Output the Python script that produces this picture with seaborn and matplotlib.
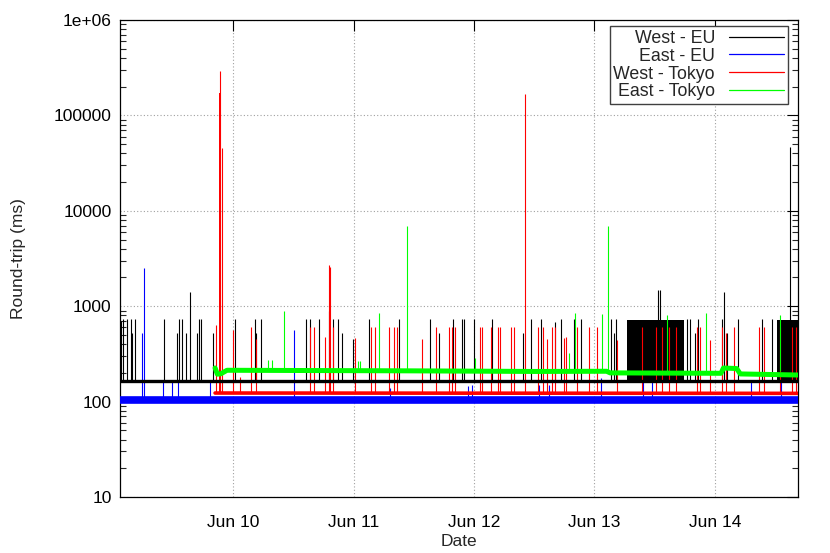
import numpy as np
import pandas as pd
import matplotlib
matplotlib.use("Agg")
import matplotlib.pyplot as plt
import matplotlib.dates as mdates
import matplotlib.ticker as mticker
from matplotlib.lines import Line2D
import seaborn as sns

# ---------------- data (times in days since Jun 9 00:00) ----------------
START = pd.Timestamp("2011-06-09")

series_names = ["West - EU", "East - EU", "West - Tokyo", "East - Tokyo"]
series_colors = ["#000000", "#0000ff", "#ff0000", "#00ff00"]

# West - EU (black)
west_eu_base_t = [0.06, 5.69]
west_eu_base_v = [164, 164]
west_eu_spike_t = [0.070, 0.087, 0.120, 0.154, 0.162, 0.187, 0.427, 0.535, 0.552, 0.577, 0.610,
                   0.643, 0.701, 0.718, 0.734, 0.834, 1.017, 1.183, 1.191, 1.232, 1.606, 1.639,
                   1.714, 1.797, 1.830, 1.871, 1.905, 1.996, 2.129, 2.378, 2.635, 2.710, 2.826,
                   2.900, 2.917, 3.000, 3.149, 3.407, 3.473, 3.556, 3.672, 3.722, 3.830, 3.888,
                   4.137, 4.162, 4.178, 4.527, 4.544, 4.768, 4.793, 4.834, 4.859, 5.058, 5.075,
                   5.100, 5.191, 5.390, 5.473, 5.622]
west_eu_spike_v = [700, 730, 730, 730, 530, 730, 730, 530, 730, 730, 530,
                   1400, 530, 730, 730, 530, 730, 730, 530, 730, 730, 730,
                   730, 900, 730, 730, 520, 450, 730, 730, 730, 530, 730,
                   730, 730, 730, 730, 530, 730, 730, 680, 730, 730, 730,
                   730, 520, 730, 1480, 1480, 730, 730, 530, 730, 730, 1400,
                   520, 730, 730, 730, 47000]
west_eu_dense_start = [4.27, 5.515]
west_eu_dense_end = [4.745, 5.69]
west_eu_dense_top = [720, 720]

# East - EU (blue)
east_eu_base_t = [0.06, 5.69]
east_eu_base_v = [104, 104]
east_eu_spike_t = [0.245, 0.261, 0.419, 0.494, 0.544, 0.809, 1.506, 2.303, 2.950, 2.980,
                   3.540, 3.620, 4.050, 4.400, 4.480, 5.300, 5.550]
east_eu_spike_v = [520, 2500, 170, 160, 160, 160, 560, 140, 145, 150,
                   150, 150, 175, 160, 165, 165, 170]

# West - Tokyo (red)
west_tokyo_base_t = [0.851, 5.69]
west_tokyo_base_v = [123, 122]
west_tokyo_spike_t = [0.859, 0.893, 0.905, 1.000, 1.058, 1.149, 1.191, 1.639, 1.672, 1.763,
                      1.797, 1.805, 1.830, 2.012, 2.145, 2.178, 2.295, 2.336, 2.361, 2.568,
                      2.685, 2.793, 2.817, 2.842, 3.050, 3.066, 3.141, 3.199, 3.216, 3.307,
                      3.332, 3.421, 3.531, 3.573, 3.606, 3.647, 3.672, 3.747, 3.763, 3.855,
                      3.954, 4.021, 4.187, 4.394, 4.510, 4.560, 4.618, 4.676, 4.851, 4.876,
                      4.959, 5.058, 5.091, 5.158, 5.365, 5.407, 5.539, 5.639, 5.672]
west_tokyo_spike_v = [630, 290000, 45000, 560, 180, 600, 450, 600, 600, 470,
                      2700, 2600, 600, 460, 600, 600, 600, 600, 600, 450,
                      600, 600, 600, 600, 600, 600, 600, 600, 600, 600,
                      600, 166000, 600, 600, 450, 600, 600, 460, 470, 600,
                      600, 600, 440, 600, 600, 600, 600, 600, 600, 600,
                      440, 600, 520, 600, 600, 600, 600, 600, 600]
west_tokyo_dense_start = [0.880]
west_tokyo_dense_end = [0.900]
west_tokyo_dense_top = [170000]

# East - Tokyo (green)
east_tokyo_base_t = [0.851, 0.870, 0.900, 0.950, 2.50, 3.50, 4.10, 4.13, 5.05, 5.07, 5.18, 5.21, 5.69]
east_tokyo_base_v = [225, 194, 196, 213, 210, 207, 208, 200, 198, 225, 222, 195, 190]
east_tokyo_spike_t = [1.290, 1.324, 1.423, 2.037, 2.054, 2.212, 2.440, 3.008, 3.788, 3.838,
                      4.062, 4.112, 4.602, 4.925, 5.539]
east_tokyo_spike_v = [270, 270, 890, 265, 265, 850, 6900, 285, 320, 840,
                      830, 6900, 800, 850, 800]

y_ticks = [10, 100, 1000, 10000, 100000, 1000000]
y_tick_labels = ["10", "100", "1000", "10000", "100000", "1e+06"]


def to_dt(days):
    return START + pd.to_timedelta(np.asarray(days, dtype=float), unit="D")


# ---------------- figure ----------------
sns.set_style("white")
plt.rcParams["font.family"] = ["Liberation Sans", "DejaVu Sans"]
FS = 12.5

fig = plt.figure(figsize=(8.30, 5.53), dpi=100)
ax = fig.add_axes([120 / 830, 1 - 497 / 553, 678 / 830, 477 / 553])

series = [
    (west_eu_base_t, west_eu_base_v, west_eu_spike_t, west_eu_spike_v,
     (west_eu_dense_start, west_eu_dense_end, west_eu_dense_top), 2.4),
    (east_eu_base_t, east_eu_base_v, east_eu_spike_t, east_eu_spike_v, None, 5.5),
    (west_tokyo_base_t, west_tokyo_base_v, west_tokyo_spike_t, west_tokyo_spike_v,
     (west_tokyo_dense_start, west_tokyo_dense_end, west_tokyo_dense_top), 2.6),
    (east_tokyo_base_t, east_tokyo_base_v, east_tokyo_spike_t, east_tokyo_spike_v, None, 3.6),
]

for (bt, bv, st, sv, dense, lw), name, col in zip(series, series_names, series_colors):
    base_level = float(np.median(bv))
    if dense is not None:
        for s, e, top in zip(*dense):
            ax.fill_between(to_dt([s, e]), [base_level, base_level], [top, top],
                            color=col, linewidth=0, zorder=2)
    ax.vlines(to_dt(st), base_level, sv, colors=col, linewidth=0.8, zorder=2)
    df = pd.DataFrame({"t": to_dt(bt), "v": bv})
    sns.lineplot(data=df, x="t", y="v", ax=ax, color=col, linewidth=lw, zorder=3,
                 estimator=None, sort=False)

ax.set_yscale("log")
ax.set_ylim(10, 1e6)
ax.set_xlim(to_dt([0.062])[0], to_dt([5.689])[0])

ax.yaxis.set_major_locator(mticker.FixedLocator(y_ticks))
ax.yaxis.set_major_formatter(mticker.FixedFormatter(y_tick_labels))
ax.yaxis.set_minor_locator(mticker.LogLocator(base=10, subs=np.arange(2, 10)))
ax.yaxis.set_minor_formatter(mticker.NullFormatter())

ax.xaxis.set_major_locator(mdates.DayLocator())
ax.xaxis.set_major_formatter(mdates.DateFormatter("%b %d"))

ax.tick_params(axis="both", which="major", direction="in", length=8, width=0.8,
               top=True, right=True, labelsize=FS, colors="black")
ax.tick_params(axis="x", which="major", pad=13)
ax.tick_params(axis="y", which="major", pad=6)
ax.tick_params(axis="y", which="minor", direction="in", length=4, width=0.8,
               left=True, right=True)

ax.grid(True, which="major", color="#a0a0a0", linestyle=(0, (1, 2)), linewidth=0.8)
for sp in ax.spines.values():
    sp.set_color("black")
    sp.set_linewidth(0.9)

ax.set_xlabel("Date", fontsize=FS, labelpad=3)
ax.set_ylabel("Round-trip (ms)", fontsize=FS, labelpad=20)

handles = [Line2D([0], [0], color=c, linewidth=0.9) for c in series_colors]
leg = ax.legend(handles, series_names, loc="upper right", bbox_to_anchor=(0.985, 0.987),
                borderaxespad=0, markerfirst=False, frameon=True, fancybox=False,
                handlelength=3.1, handletextpad=0.8, borderpad=0.2, labelspacing=0.05,
                fontsize=12.8)
leg.get_frame().set_edgecolor("#404040")
leg.get_frame().set_linewidth(1.0)
leg.get_frame().set_alpha(1.0)

fig.savefig("out.png", dpi=100)
